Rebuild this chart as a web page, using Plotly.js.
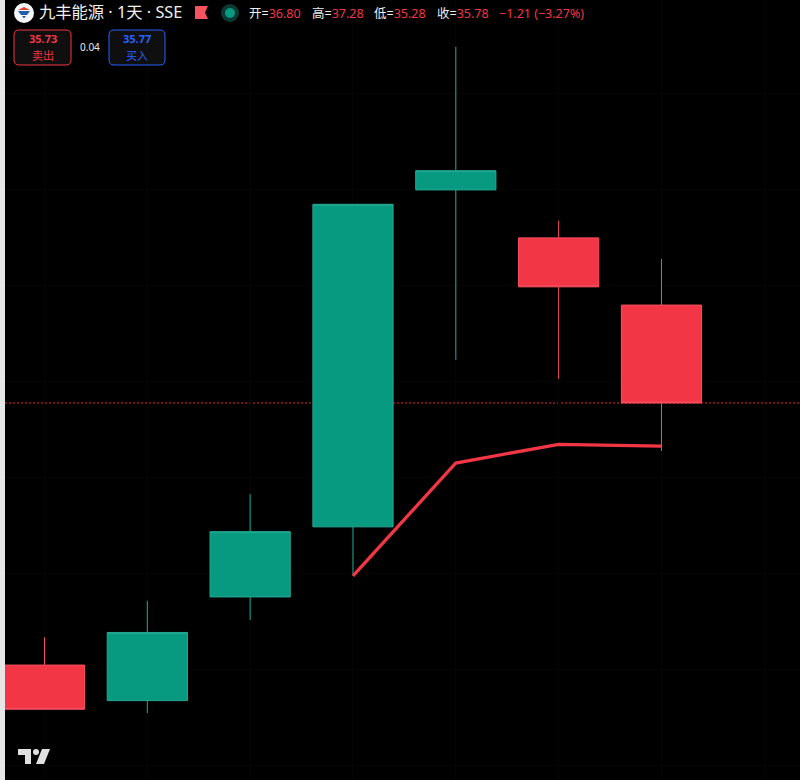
<!DOCTYPE html>
<html><head><meta charset="utf-8">
<script src="https://cdn.plot.ly/plotly-3.0.1.min.js"></script>
<style>html,body{margin:0;padding:0;background:#000;overflow:hidden}#c{width:800px;height:780px}</style>
</head><body><div id="c"></div>
<script>
// Data
const sessions = [0, 1, 2, 3, 4, 5, 6];
const opens  = [33.05, 32.68, 33.76, 34.49, 38.00, 37.50, 36.80];
const highs  = [33.34, 33.72, 34.83, 37.85, 39.49, 37.68, 37.28];
const lows   = [32.59, 32.55, 33.52, 33.98, 36.23, 36.03, 35.28];
const closes = [32.59, 33.39, 34.44, 37.85, 38.20, 36.99, 35.78];
const lineSessions = [3, 4, 5, 6];
const lineValues = [33.98, 35.155, 35.35, 35.33];
const lastPrice = 35.78;
const symbolTitle = '九丰能源 · 1天 · SSE';
const ohlcLabels = ['开', '高', '低', '收'];
const ohlcValues = ['36.80', '37.28', '35.28', '35.78'];
const changeText = '−1.21 (−3.27%)';
const sellPrice = '35.73', buyPrice = '35.77', spread = '0.04';
const sellLabel = '卖出', buyLabel = '买入';

const RED = '#f23645', TEAL = '#089981', BLUE = '#2962ff';
const FONT = '"Noto Sans","Noto Sans CJK SC",sans-serif';
const W = 800, H = 780, ML = 5;
const px = x => (x - ML) / (W - ML);
const py = y => 1 - y / H;
const pathOf = pts => pts.map((p, i) => (i ? 'L' : 'M') + px(p[0]) + ',' + py(p[1])).join(' ') + ' Z';
function rr(x0, y0, x1, y1, r) {
  const c = (x, y) => px(x) + ',' + py(y);
  return 'M' + c(x0 + r, y0) + ' L' + c(x1 - r, y0) + ' Q' + c(x1, y0) + ' ' + c(x1, y0 + r) +
    ' L' + c(x1, y1 - r) + ' Q' + c(x1, y1) + ' ' + c(x1 - r, y1) +
    ' L' + c(x0 + r, y1) + ' Q' + c(x0, y1) + ' ' + c(x0, y1 - r) +
    ' L' + c(x0, y0 + r) + ' Q' + c(x0, y0) + ' ' + c(x0 + r, y0) + ' Z';
}
const sh = o => Object.assign({xref: 'paper', yref: 'paper', layer: 'above'}, o);
const circ = (cx, cy, r, fill) => sh({type: 'circle', x0: px(cx - r), x1: px(cx + r), y0: py(cy + r), y1: py(cy - r), fillcolor: fill, line: {width: 0}});
const poly = (pts, fill) => sh({type: 'path', path: pathOf(pts), fillcolor: fill, line: {width: 0}});

const shapes = [
  {type: 'line', xref: 'paper', x0: 0, x1: 1, yref: 'y', y0: lastPrice, y1: lastPrice, layer: 'below',
   line: {color: '#f0202f', width: 1, dash: '2px,2px'}},
  circ(24, 13, 10, '#f4f6f8'),
  poly([[18, 10], [24, 7], [30, 10]], '#e8402f'),
  poly([[18, 11], [30, 11], [27, 15], [21, 15]], '#1f5fa8'),
  poly([[22, 16], [26, 16], [24, 18.5]], '#1f5fa8'),
  poly([[195, 6], [208, 6], [205, 12.5], [208, 19], [195, 19]], '#f7525f'),
  circ(230, 13, 9, '#0b3a33'),
  circ(230, 13, 5, '#089981'),
  sh({type: 'path', path: rr(14, 30, 71, 65, 5), fillcolor: '#0f0f0f', line: {color: RED, width: 1}}),
  sh({type: 'path', path: rr(109, 30, 165, 65, 5), fillcolor: '#0f0f0f', line: {color: BLUE, width: 1}}),
  poly([[18, 749], [31, 749], [31, 764], [25, 764], [25, 755], [18, 755]], '#e0e0e0'),
  circ(36, 752, 3, '#e0e0e0'),
  poly([[42, 749], [50, 749], [44, 764], [36, 764]], '#e0e0e0')
];

const ann = (x, y, text, size, color, anchor) => ({
  xref: 'paper', yref: 'paper', x: px(x), y: py(y), text: text, showarrow: false,
  xanchor: anchor || 'left', yanchor: 'middle', font: {family: FONT, size: size, color: color},
  borderpad: 0
});
const ohlcX = [248, 311, 373, 436];
const annotations = [
  ann(37.5, 12, symbolTitle, 16.3, '#f0f0f0'),
  ann(497.5, 13, changeText, 12.5, RED),
  ann(42.5, 38.5, '<b>' + sellPrice + '</b>', 11, RED, 'center'),
  ann(42.5, 56, sellLabel, 11, RED, 'center'),
  ann(90, 47, spread, 10, '#e8e8e8', 'center'),
  ann(137, 38.5, '<b>' + buyPrice + '</b>', 11, BLUE, 'center'),
  ann(137, 56, buyLabel, 11, BLUE, 'center')
];
ohlcLabels.forEach((l, i) => {
  annotations.push(ann(ohlcX[i], 13, l + '=<span style="color:' + RED + '">' + ohlcValues[i] + '</span>', 12.5, '#f0f0f0'));
});

const traces = [
  {type: 'candlestick', x: sessions, open: opens, high: highs, low: lows, close: closes,
   whiskerwidth: 0, hoverinfo: 'skip',
   increasing: {line: {color: '#22ab94', width: 1}, fillcolor: TEAL},
   decreasing: {line: {color: '#f7525f', width: 1}, fillcolor: RED}},
  {type: 'scatter', mode: 'lines', x: lineSessions, y: lineValues, hoverinfo: 'skip',
   line: {color: RED, width: 3.3}}
];

const layout = {
  width: W, height: H, margin: {l: ML, r: 0, t: 0, b: 0}, showlegend: false,
  paper_bgcolor: '#e6e6e6', plot_bgcolor: '#000000', boxgap: 0.22, boxgroupgap: 0,
  font: {family: FONT},
  xaxis: {range: [-0.384, 7.347], showticklabels: false, ticks: '', zeroline: false, fixedrange: true,
          rangeslider: {visible: false}, showgrid: true, gridcolor: '#050505', dtick: 1, type: 'linear'},
  yaxis: {range: [31.853, 39.978], showticklabels: false, ticks: '', zeroline: false, fixedrange: true,
          showgrid: true, gridcolor: '#050505', dtick: 1},
  shapes: shapes, annotations: annotations
};
Plotly.newPlot('c', traces, layout, {displayModeBar: false, staticPlot: true});
</script></body></html>
